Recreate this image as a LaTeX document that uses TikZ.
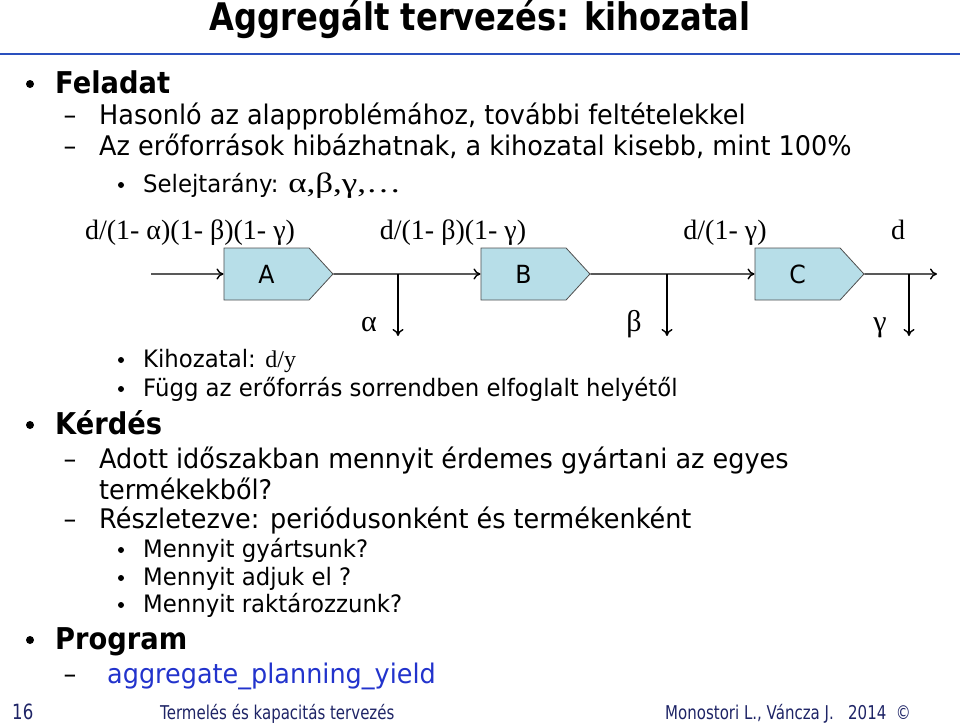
\documentclass[tikz,border=0pt]{standalone}
\usepackage{fontspec}
\usepackage{tikz}
\usetikzlibrary{arrows.meta, positioning, shapes.symbols}
\setmainfont{DejaVu Sans}
\newfontfamily\bodyfont[FakeStretch=0.945]{DejaVu Sans}
\newfontfamily\subfont[FakeStretch=0.95]{DejaVu Sans}
\newfontfamily\boldfont[FakeStretch=0.91]{DejaVu Sans}
\newfontfamily\headfont[FakeStretch=0.847]{DejaVu Sans}
\newfontfamily\footfont[FakeStretch=0.79]{DejaVu Sans}
\newfontfamily\grkfont{Liberation Serif}
\newfontfamily\widegrk[FakeStretch=1.25]{Liberation Serif}
\definecolor{rule}{HTML}{2A50BE}
\definecolor{boxfill}{HTML}{B7DEE8}
\definecolor{boxline}{HTML}{505050}
\definecolor{link}{HTML}{2233CC}
\definecolor{foot}{HTML}{1E2466}

\begin{document}
\begin{tikzpicture}[x=1pt, y=-1pt,
        lvlone/.style={anchor=base west, inner sep=0pt,
                       font=\boldfont\bfseries\fontsize{30}{30}\selectfont},
        lvltwo/.style={anchor=base west, inner sep=0pt,
                       font=\bodyfont\fontsize{27}{27}\selectfont},
        lvlthree/.style={anchor=base west, inner sep=0pt,
                         font=\subfont\fontsize{24}{24}\selectfont},
        dot/.style={circle, fill=black, inner sep=0pt},
        dsh/.style={anchor=base, inner sep=0pt,
                    font=\bodyfont\fontsize{27}{27}\selectfont},
        flow/.style={anchor=base, inner sep=0pt,
                     font=\grkfont\fontsize{28}{28}\selectfont},
        stage/.style={signal, signal to=east, signal pointer angle=95,
                      draw=boxline, fill=boxfill, line width=0.8pt,
                      minimum width=109, minimum height=52, inner sep=0pt,
                      font=\bodyfont\fontsize{25}{25}\selectfont},
        ln/.style={line width=1.4pt, -{To[length=7pt, width=11pt]}},
        ft/.style={anchor=base west, inner sep=0pt, text=foot,
                   font=\footfont\fontsize{19}{19}\selectfont},
      ]
      \useasboundingbox (0,0) rectangle (960,725);

      % Title and rule
      \node[anchor=base, inner sep=0pt, font=\headfont\bfseries\fontsize{38}{38}\selectfont]
        (title) at (480,31) {Aggregált tervezés: kihozatal};
      \draw[rule, line width=2.5pt] (0,54) -- (960,54);

      % Feladat
      \node[dot, minimum size=8] (b1) at (30,84) {};
      \node[lvlone] (feladat) at (55,93) {Feladat};
      \node[dsh] (d1) at (70,124) {–};
      \node[lvltwo] (t1) at (99,124) {Hasonló az alapproblémához, további feltételekkel};
      \node[dsh] (d2) at (70,155) {–};
      \node[lvltwo] (t2) at (99,155) {Az erőforrások hibázhatnak, a kihozatal kisebb, mint 100\%};
      \node[dot, minimum size=6] (b2) at (121,185) {};
      \node[lvlthree] (t3) at (143,192) {Selejtarány: {\widegrk\fontsize{28}{28}\selectfont α,β,γ,…}};

      % Flow line
      \node[flow] (l1) at (190,239) {d/(1- α)(1- β)(1- γ)};
      \node[flow] (l2) at (453,239) {d/(1- β)(1- γ)};
      \node[flow] (l3) at (725,239) {d/(1- γ)};
      \node[flow] (l4) at (898,239) {d};
      \node[stage] (A) at (266.5,274) {A};
      \node[stage] (B) at (523.5,274) {B};
      \node[stage] (C) at (797.5,274) {C};
      \coordinate (in) at (151,274);
      \coordinate (out) at (937,274);
      \coordinate (sa) at (398,274);
      \coordinate (sb) at (667,274);
      \coordinate (sc) at (909,274);
      \coordinate (ea) at (398,336);
      \coordinate (eb) at (667,336);
      \coordinate (ec) at (909,336);
      \draw[ln] (in) -- (A);
      \draw[ln] (A) -- (B);
      \draw[ln] (B) -- (C);
      \draw[ln] (C) -- (out);
      \draw[ln] (sa) -- (ea);
      \draw[ln] (sb) -- (eb);
      \draw[ln] (sc) -- (ec);
      \node[flow, font=\grkfont\fontsize{30}{30}\selectfont] (ga) at (369,331) {α};
      \node[flow, font=\grkfont\fontsize{30}{30}\selectfont] (gb) at (634,331) {β};
      \node[flow, font=\grkfont\fontsize{30}{30}\selectfont] (gc) at (880,331) {γ};

      \node[dot, minimum size=6] (b3) at (121,360) {};
      \node[lvlthree] (t4) at (143,367) {Kihozatal: {\grkfont\fontsize{24}{24}\selectfont d/y}};
      \node[dot, minimum size=6] (b4) at (121,389) {};
      \node[lvlthree] (t5) at (143,396) {Függ az erőforrás sorrendben elfoglalt helyétől};

      % Kérdés
      \node[dot, minimum size=8] (b5) at (30,425) {};
      \node[lvlone] (kerdes) at (55,434) {Kérdés};
      \node[dsh] (d3) at (70,468) {–};
      \node[lvltwo] (t6) at (99,468) {Adott időszakban mennyit érdemes gyártani az egyes};
      \node[lvltwo] (t7) at (99,499) {termékekből?};
      \node[dsh] (d4) at (70,528) {–};
      \node[lvltwo] (t8) at (99,528) {Részletezve: periódusonként és termékenként};
      \node[dot, minimum size=6] (b6) at (121,550) {};
      \node[lvlthree] (t9) at (143,557) {Mennyit gyártsunk?};
      \node[dot, minimum size=6] (b7) at (121,578) {};
      \node[lvlthree] (t10) at (143,585) {Mennyit adjuk el ?};
      \node[dot, minimum size=6] (b8) at (121,605) {};
      \node[lvlthree] (t11) at (143,612) {Mennyit raktározzunk?};

      % Program
      \node[dot, minimum size=8] (b9) at (30,640) {};
      \node[lvlone] (program) at (55,649) {Program};
      \node[dsh] (d5) at (70,683) {–};
      \node[lvltwo, text=link] (t12) at (107,683) {aggregate\_planning\_yield};

      % Footer
      \node[ft, font=\footfont\fontsize{21}{21}\selectfont] (page) at (12,719) {16};
      \node[ft] (ftl) at (160,719) {Termelés és kapacitás tervezés};
      \node[ft] (ftr) at (665,719) {Monostori L., Váncza J.\ \ \ 2014 \ ©};
      \end{tikzpicture}
\end{document}
